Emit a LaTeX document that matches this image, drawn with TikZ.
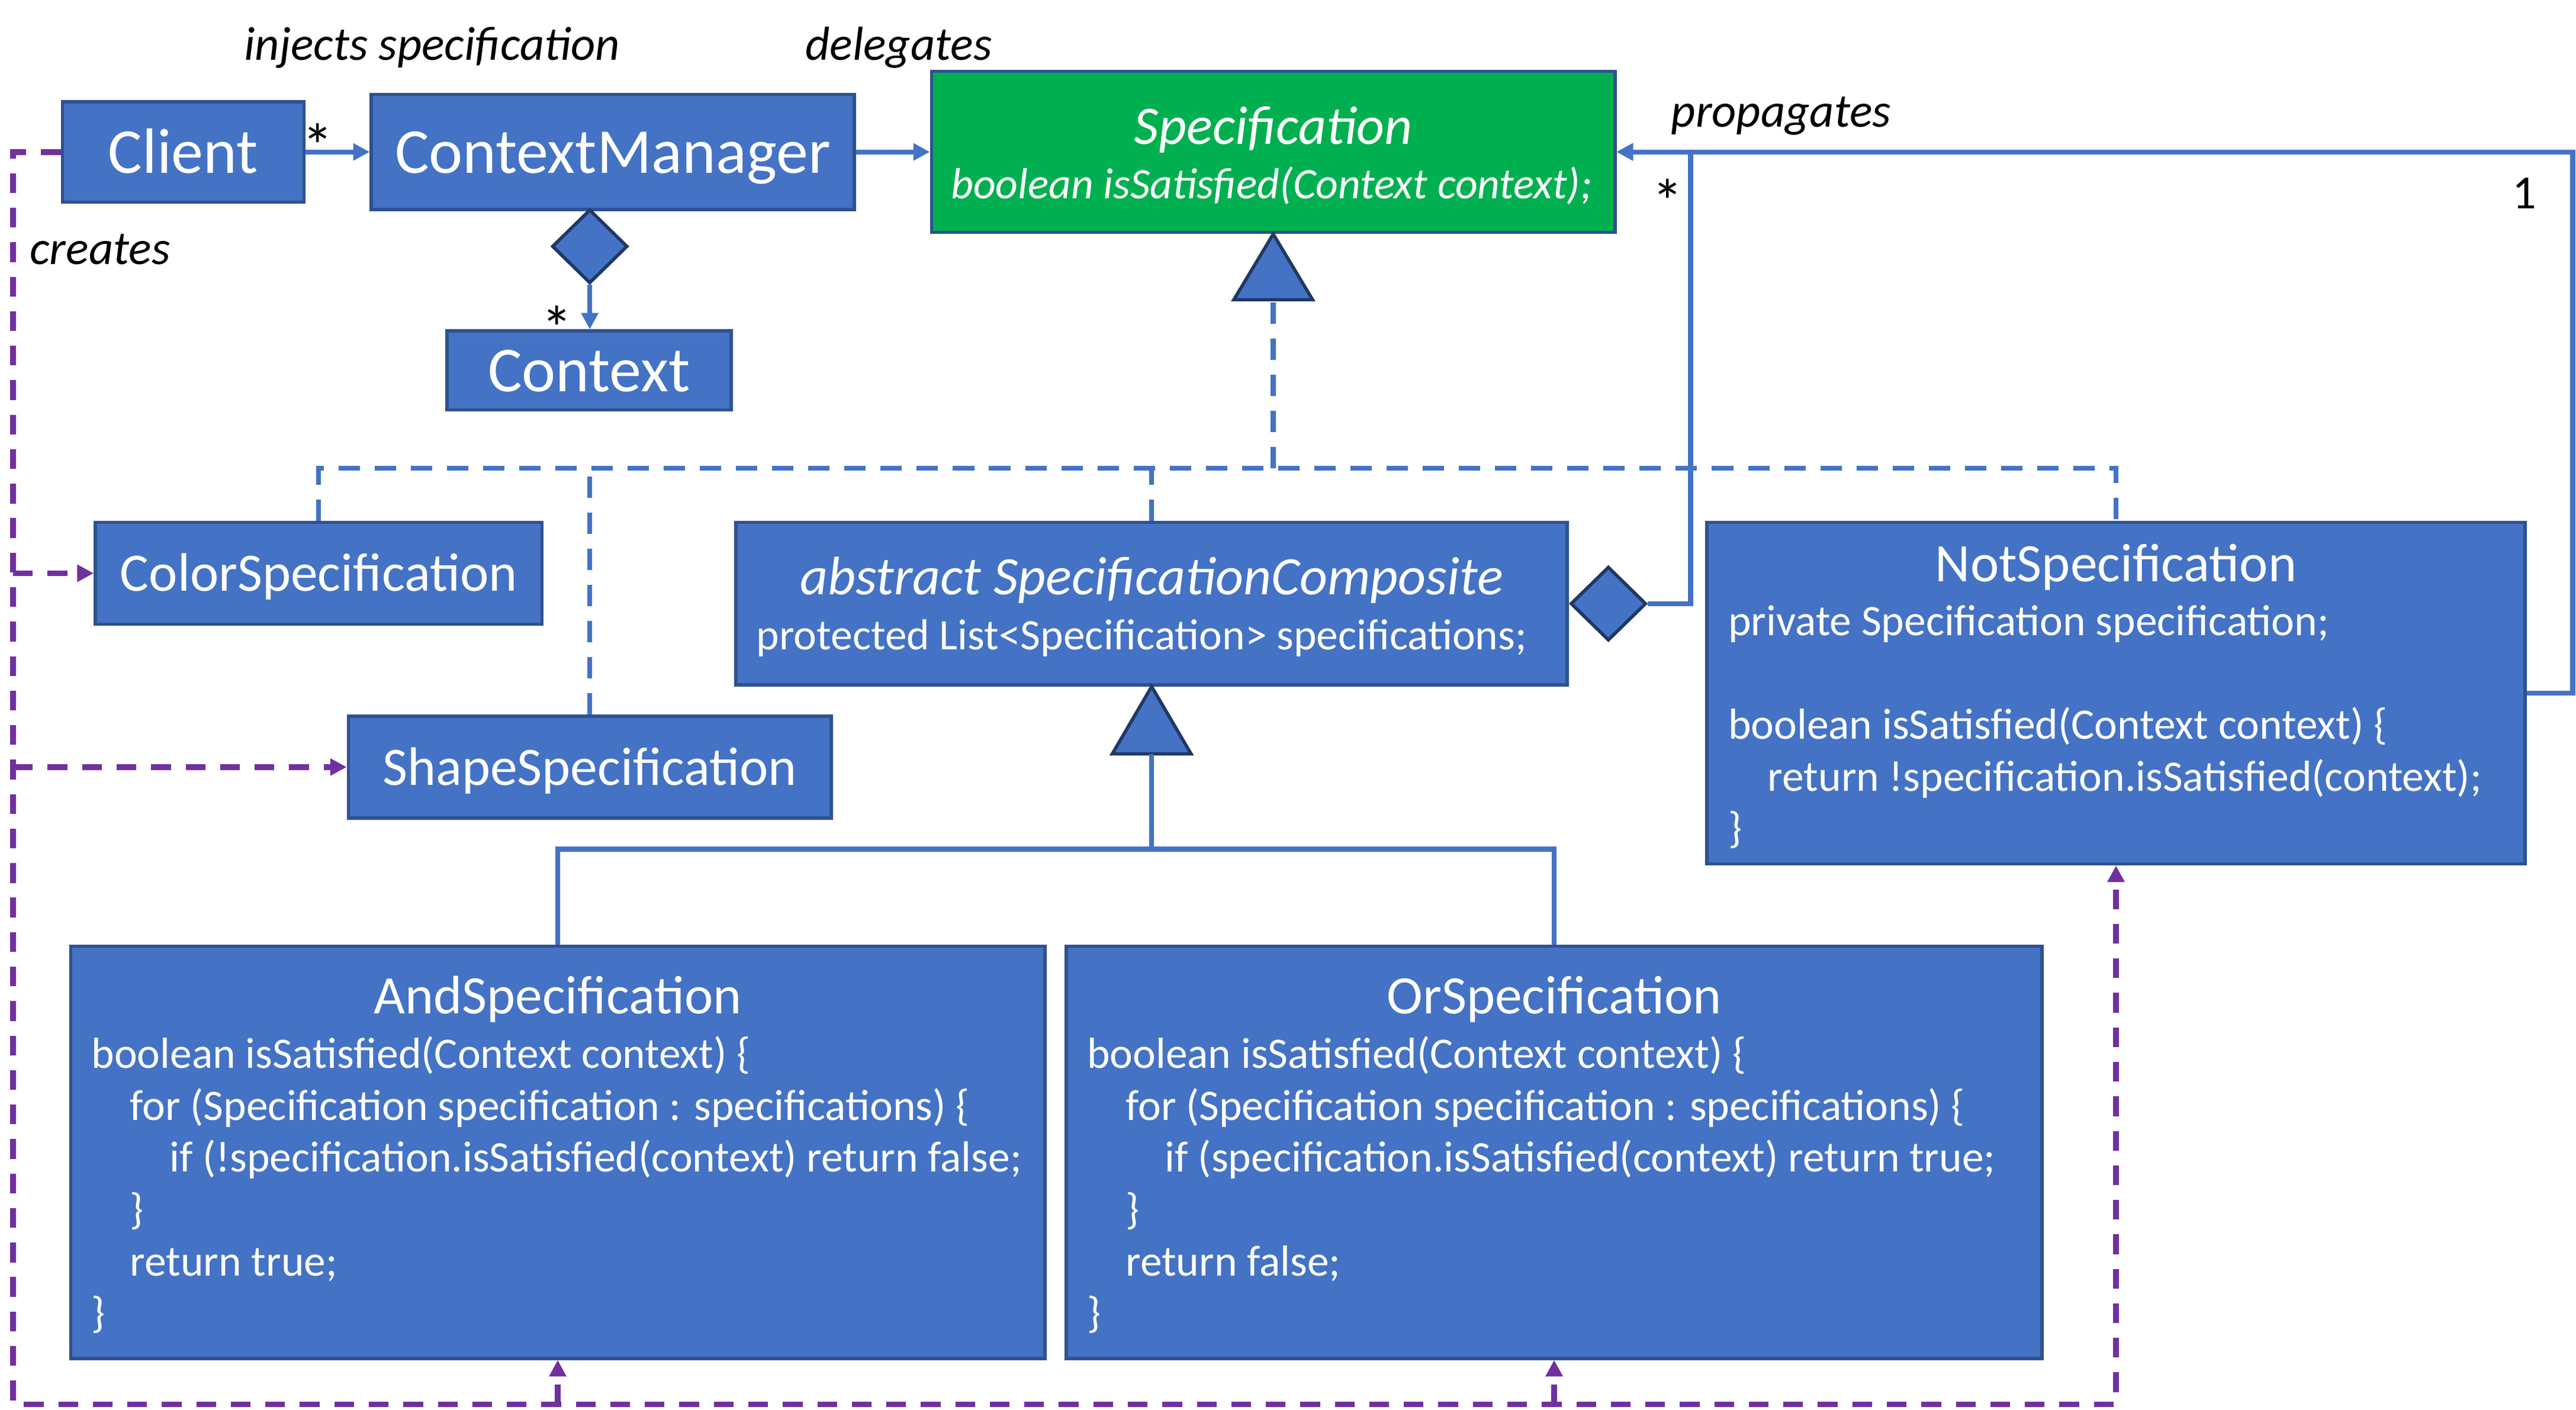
\documentclass[tikz,border=0pt]{standalone}
\usepackage{fontspec}
\setmainfont{Carlito}
\usepackage{tikz}
\usepackage{xcolor}
\definecolor{classblue}{HTML}{4472C4}
\definecolor{classedge}{HTML}{2F528F}
\definecolor{diamondedge}{HTML}{203864}
\definecolor{ifacegreen}{HTML}{00B050}
\definecolor{createpurple}{HTML}{7030A0}
\tikzset{classbox/.style={draw=classedge,fill=classblue,line width=2pt,text=white,inner sep=0pt},
 iface/.style={classbox,fill=ifacegreen},
 bigname/.style={font=\fontsize{39}{47}\selectfont,text height=26pt,text depth=0pt},
 midname/.style={font=\fontsize{33}{40}\selectfont,text height=22pt,text depth=0pt},
 classname/.style={font=\fontsize{33}{40}\selectfont,text=white,inner sep=0pt,anchor=base},
 codetext/.style={font=\fontsize{26.5}{31.6}\selectfont,text=white,align=left,inner sep=0pt,anchor=base west},
 note/.style={font=\fontsize{29}{35}\selectfont\itshape,inner sep=0pt,anchor=base},
 mult/.style={font=\fontsize{38}{44}\selectfont,inner sep=0pt,anchor=base},
 assoc/.style={draw=classblue,line width=3pt,-{Triangle[length=10pt,width=10pt]}},
 realize/.style={draw=classblue,line width=3pt,dash pattern=on 13pt off 9pt},
 general/.style={draw=classblue,line width=3pt},
 creates/.style={draw=createpurple,line width=3.5pt,dash pattern=on 12pt off 9pt},
 createarrow/.style={creates,-{Triangle[length=10pt,width=10pt]}},
 owner/.style={diamond,draw=diamondedge,fill=classblue,line width=2pt,minimum width=46pt,minimum height=45pt,inner sep=0pt},
 gentri/.style={draw=diamondedge,fill=classblue,line width=2pt,line join=miter},
 }
\usetikzlibrary{arrows.meta}
\usetikzlibrary{shapes}

\begin{document}
\begin{tikzpicture}[x=1pt,y=-1pt]
        \useasboundingbox (0,0) rectangle (1568,858.4);
        \node[classbox,bigname,minimum width=147pt,minimum height=61pt] (client) at (111.5,92.5) {Client};
        \node[classbox,bigname,minimum width=294pt,minimum height=70pt] (manager) at (373,92.5) {ContextManager};
        \node[iface,minimum width=416pt,minimum height=98pt] (spec) at (775,92.5) {};
        \node[classbox,bigname,minimum width=173pt,minimum height=48pt] (context) at (358.5,225.5) {Context};
        \node[classbox,midname,minimum width=272pt,minimum height=62pt] (colorspec) at (194,349) {ColorSpecification};
        \node[classbox,midname,minimum width=294pt,minimum height=62pt] (shapespec) at (359,467) {ShapeSpecification};
        \node[classbox,minimum width=506pt,minimum height=99pt] (composite) at (701,367.5) {};
        \node[classbox,minimum width=498pt,minimum height=208pt] (notspec) at (1288,422) {};
        \node[classbox,minimum width=593pt,minimum height=251pt] (andspec) at (339.5,701.5) {};
        \node[classbox,minimum width=594pt,minimum height=251pt] (orspec) at (946,701.5) {};

        \node[classname,font=\fontsize{33}{40}\selectfont\itshape] (spectitle) at (775,87.7) {Specification};
        \node[codetext,anchor=base,font=\fontsize{26.5}{31.6}\selectfont\itshape] (specmethod) at (774,121) {boolean isSatisfied(Context context);};
        \node[classname,font=\fontsize{33}{40}\selectfont\itshape] (comptitle) at (701,362) {abstract SpecificationComposite};
        \node[codetext,anchor=base] (compfield) at (695,395.5) {protected List<Specification> specifications;};
        \node[classname] (nottitle) at (1288,354) {NotSpecification};
        \node[codetext] (notcode) at (1051.8,513.1) {private Specification specification;\\
            \mbox{}\\
            boolean isSatisfied(Context context) \{\\
            \hspace*{24pt}return !specification.isSatisfied(context);\\
            \}};
        \node[classname] (andtitle) at (339.5,617) {AndSpecification};
        \node[codetext] (andcode) at (55.5,808.3) {boolean isSatisfied(Context context) \{\\
            \hspace*{23.5pt}for (Specification specification : specifications) \{\\
            \hspace*{47.5pt}if (!specification.isSatisfied(context) return false;\\
            \hspace*{23.5pt}\}\\
            \hspace*{23.5pt}return true;\\
            \}};
        \node[classname] (ortitle) at (946,617) {OrSpecification};
        \node[codetext] (orcode) at (661.5,808.3) {boolean isSatisfied(Context context) \{\\
            \hspace*{23.5pt}for (Specification specification : specifications) \{\\
            \hspace*{47.5pt}if (specification.isSatisfied(context) return true;\\
            \hspace*{23.5pt}\}\\
            \hspace*{23.5pt}return false;\\
            \}};

        \node[note] (injects) at (263,36.5) {injects specification};
        \node[note] (delegates) at (547,36.5) {delegates};
        \node[note,anchor=base west] (createslabel) at (18,161) {creates};
        \node[note,anchor=base west] (propagates) at (1017,77.3) {propagates};
        \node[mult] (clientmult) at (193.5,102) {*};
        \node[mult] (contextmult) at (339,213) {*};
        \node[mult] (compmult) at (1015,136) {*};
        \node[mult,font=\fontsize{29}{35}\selectfont] (notmult) at (1536.5,127) {1};

        \node[owner] (managerowns) at (359,150) {};
        \node[owner,anchor=west] (compowns) at (composite.east) {};
        \filldraw[gentri] (spec.south) -- ++(-24,40) -- ++(48,0) -- cycle;
        \path (spec.south) ++(0,40) coordinate (specbase);
        \filldraw[gentri] (composite.south) -- ++(-24,41) -- ++(48,0) -- cycle;
        \path (composite.south) ++(0,41) coordinate (compbase);

        \draw[assoc] (client) -- (manager);
        \draw[assoc] (manager) -- (spec);
        \draw[assoc] (managerowns.south) -- (managerowns.south |- context.north);

        \coordinate (impl) at (775,285);
        \draw[realize] (impl) -- (specbase);
        \draw[realize] (colorspec.north) |- (impl) -| (notspec.north);
        \draw[realize] (shapespec.north) -- (shapespec.north |- impl);
        \draw[realize] (composite.north) -- (composite.north |- impl);

        \coordinate (split) at (701,517);
        \draw[general] (split) -- (compbase);
        \draw[general] (andspec.north) |- (split) -| (orspec.north);

        \coordinate (propbend) at (1029,92.5);
        \coordinate (notbend) at (1566,92.5);
        \draw[assoc] (compowns.east) -| (propbend) -- (spec.east);
        \draw[assoc] (notspec.east) -| (notbend) -- (spec.east);

        \coordinate (createtop) at (8,92.5);
        \coordinate (createbottom) at (8,855);
        \draw[createarrow] (client.west) -- (createtop) -- (createbottom) -| (notspec.south);
        \draw[createarrow] (createtop |- colorspec.west) -- (colorspec.west);
        \draw[createarrow] (createtop |- shapespec.west) -- (shapespec.west);
        \draw[createarrow] (andspec.south |- createbottom) -- (andspec.south);
        \draw[createarrow] (orspec.south |- createbottom) -- (orspec.south);
    \end{tikzpicture}
\end{document}
